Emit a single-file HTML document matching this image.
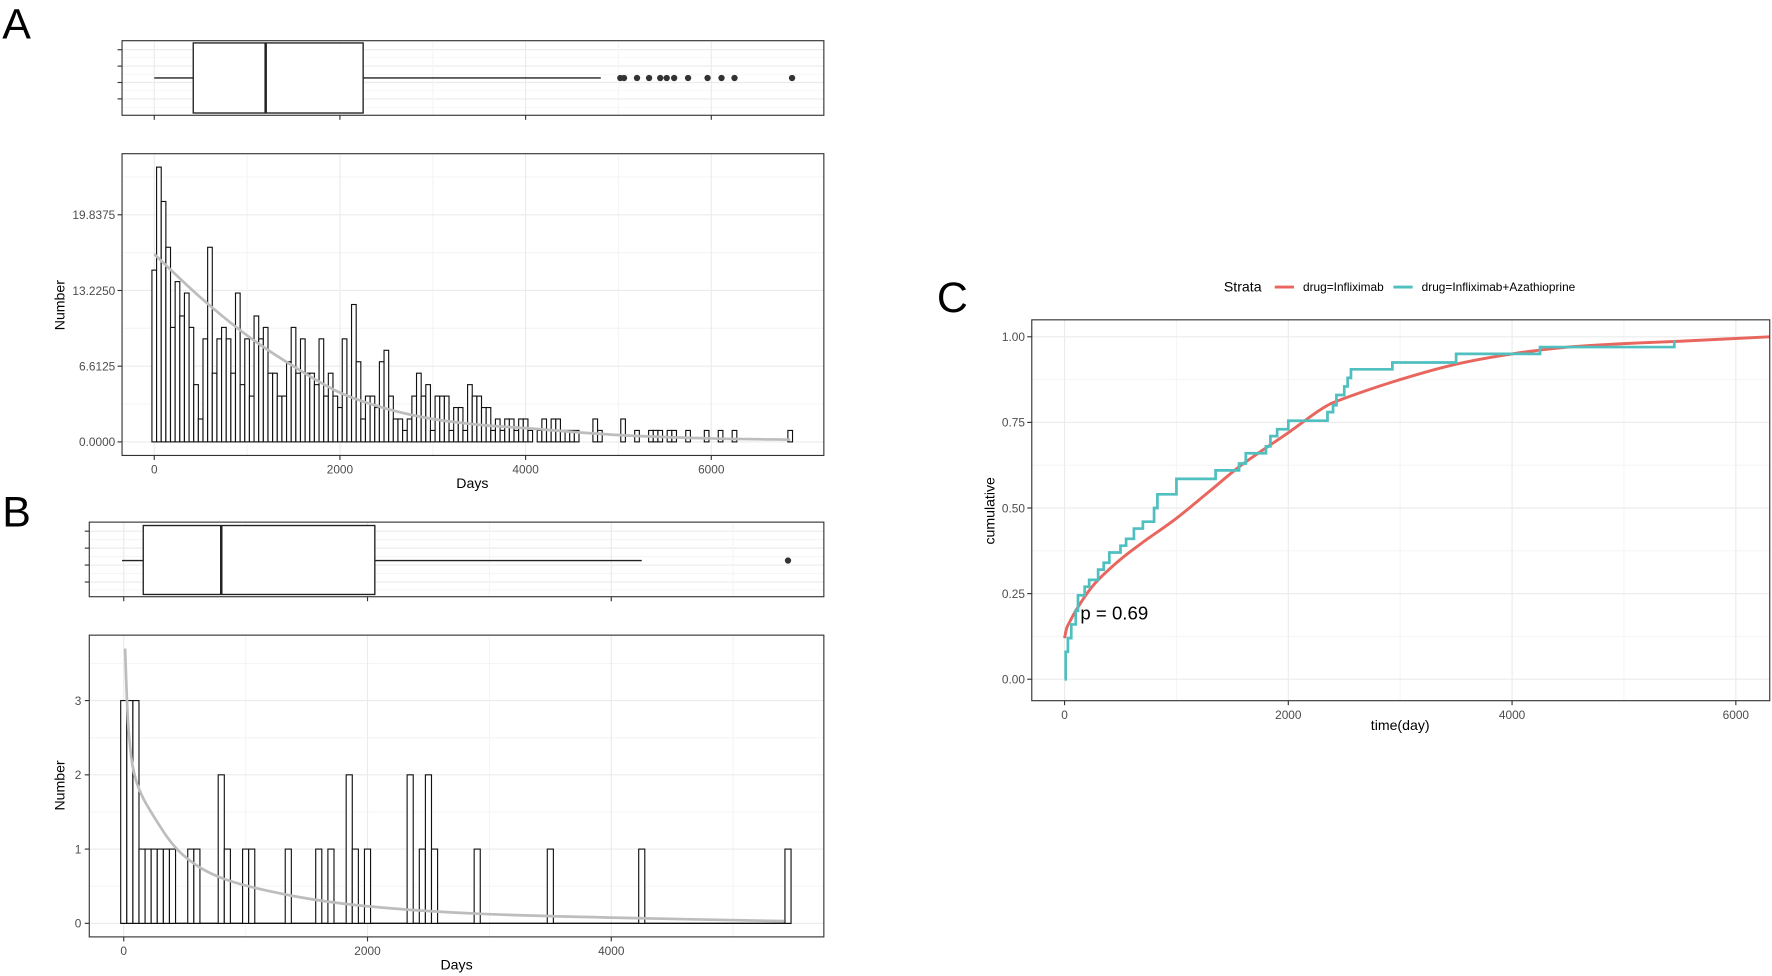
<!DOCTYPE html>
<html><head><meta charset="utf-8"><title>Survival duration figure</title>
<style>
html,body{margin:0;padding:0;background:#fff;}
svg{display:block;font-family:"Liberation Sans",sans-serif;}
</style></head>
<body>
<svg id="fig" width="1772" height="976" viewBox="0 0 1568 863.6" preserveAspectRatio="none" xmlns="http://www.w3.org/2000/svg">
<text x="2" y="34" font-size="38">A</text>
<text x="2" y="466" font-size="38">B</text>
<text x="829" y="276" font-size="38">C</text>
</svg>
<script>
// ---------- Panel A data ----------
const aBinWidth = 50;
const aCounts = [15,24,21,17,10,14,11,13,10,5,2,9,17,6,9,10,9,6,13,5,
 9,4,11,9,10,6,6,4,4,7,10,6,9,6,6,5,9,4,6,4,3,9,4,12,7,2,4,4,3,7,
 8,4,2,2,1,2,4,6,4,5,1,4,4,4,1,3,3,1,5,4,4,3,3,1,2,1,2,2,1,2,
 2,1,0,1,2,1,2,2,1,1,1,1,0,0,0,2,1,0,0,0,0,2,0,0,1,0,0,1,1,1,
 0,1,1,0,0,1,0,0,0,1,0,0,1,0,0,1,0,0,0,0,0,0,0,0,0,0,0,1];
const aCurveDays = [0,500,1000,1500,2000,2500,3000,3500,4000,5000,6000,6850];
const aCurveVals = [16.4,12.6,9.3,6.6,4.3,2.9,2.0,1.5,1.2,0.6,0.3,0.2];
const aYTicks = [0,6.6125,13.225,19.8375];
const aYTickLabels = ["0.0000","6.6125","13.2250","19.8375"];
const aXTicks = [0,2000,4000,6000];
const aBox = {q1:420, med:1200, q3:2250, lo:0, hi:4810};
const aOutliers = [5020,5060,5200,5330,5450,5520,5600,5750,5960,6110,6250,6870];

// ---------- Panel B data ----------
const bBinWidth = 50;
const bBins   = [0,1,2,3,4,5,6,7,8,11,12,16,17,20,21,27,32,34,37,38,40,47,49,50,51,58,70,85,109];
const bCounts = [3,3,3,1,1,1,1,1,1,1,1,2,1,1,1,1,1,1,2,1,1,2,1,2,1,1,1,1,1];
const bCurveDays = [11,40,100,250,480,820,1385,2000,2900,4000,5420];
const bCurveVals = [3.7,2.6,1.93,1.43,0.93,0.6,0.37,0.23,0.13,0.077,0.03];
const bYTicks = [0,1,2,3];
const bXTicks = [0,2000,4000];
const bBox = {q1:160, med:800, q3:2060, lo:0, hi:4250};
const bOutliers = [5450];

// ---------- Panel C data ----------
const cRedDays = [0,20,50,100,200,300,500,700,1000,1300,1600,2000,2300,2500,3000,3500,4000,4500,5000,5500,6300];
const cRedVals = [0.12,0.15,0.17,0.20,0.25,0.29,0.35,0.40,0.47,0.55,0.63,0.72,0.79,0.82,0.875,0.92,0.95,0.97,0.98,0.987,1.0];
const cTealDays = [0,10,30,60,100,120,180,220,300,350,400,500,550,620,700,800,830,1000,1350,1560,1620,1800,1840,1900,2000,2350,2400,2430,2500,2530,2560,2930,3500,4250,5450];
const cTealVals = [0,0.08,0.12,0.16,0.2,0.245,0.27,0.29,0.32,0.34,0.37,0.39,0.41,0.44,0.46,0.5,0.54,0.585,0.61,0.63,0.66,0.68,0.71,0.73,0.755,0.78,0.8,0.83,0.855,0.88,0.905,0.925,0.95,0.97,0.99];
const cXTicks = [0,2000,4000,6000];
const cYTicks = [0,0.25,0.5,0.75,1.0];
const cYTickLabels = ["0.00","0.25","0.50","0.75","1.00"];

const NS = "http://www.w3.org/2000/svg";
const svg = document.getElementById('fig');
function mk(tag, attrs, parent){
  const e = document.createElementNS(NS, tag);
  for (const k in attrs) e.setAttribute(k, attrs[k]);
  (parent||svg).appendChild(e);
  return e;
}
function txt(x,y,s,size,anchor,fill,parent){
  const t = mk('text',{x:x,y:y,'font-size':size,'text-anchor':anchor||'start',fill:fill||'#4d4d4d'},parent);
  t.textContent = s;
  return t;
}
function smoothPath(p){
  let d='M'+p[0][0]+','+p[0][1];
  for(let i=0;i<p.length-1;i++){
    const p0=p[Math.max(0,i-1)],p1=p[i],p2=p[i+1],p3=p[Math.min(p.length-1,i+2)];
    const c1x=p1[0]+(p2[0]-p0[0])/6,c1y=p1[1]+(p2[1]-p0[1])/6;
    const c2x=p2[0]-(p3[0]-p1[0])/6,c2y=p2[1]-(p3[1]-p1[1])/6;
    d+=' C'+c1x+','+c1y+' '+c2x+','+c2y+' '+p2[0]+','+p2[1];
  }
  return d;
}
const GRID = '#ebebeb', MINOR = '#f5f5f5';

// ---- Panel A scales ----
const aX = d => 136.5 + d*0.08215;
const aY = v => 391 - v*10.13;
{
  const L=108,R=729,T=36,B=102;
  const g = mk('g',{});
  
  
  [44,58.5,73,87.5].forEach(y=>{ const l=mk('line',{x1:L,x2:R,y1:y,y2:y,stroke:GRID,'stroke-width':1},g);   });
  [37,51,66,80,95].forEach(y=>{ mk('line',{x1:L,x2:R,y1:y,y2:y,stroke:MINOR,'stroke-width':0.6},g); });
  aXTicks.forEach(d=>{ const l=mk('line',{x1:aX(d),x2:aX(d),y1:T,y2:B,stroke:GRID},g);   mk('line',{x1:aX(d),x2:aX(d),y1:B,y2:B+4,stroke:'#333'},g); });
  [1000,3000,5000].forEach(d=>mk('line',{x1:aX(d),x2:aX(d),y1:T,y2:B,stroke:MINOR},g));
  [44,58.5,73,87.5].forEach(y=>mk('line',{x1:L-4,x2:L,y1:y,y2:y,stroke:'#333'},g));
  const wl=mk('line',{x1:aX(aBox.lo),x2:aX(aBox.q1),y1:69,y2:69,stroke:'#222','stroke-width':1.2},g);
   
  const wh=mk('line',{x1:aX(aBox.q3),x2:aX(aBox.hi),y1:69,y2:69,stroke:'#222','stroke-width':1.2},g);
   
  const bx=mk('rect',{x:aX(aBox.q1),y:38,width:aX(aBox.q3)-aX(aBox.q1),height:62,fill:'#fff',stroke:'#222','stroke-width':1.2},g);
   
  const md=mk('line',{x1:aX(aBox.med),x2:aX(aBox.med),y1:38,y2:100,stroke:'#222','stroke-width':2.2},g);
   
  aOutliers.forEach(d=>{ const c=mk('circle',{cx:aX(d),cy:69,r:2.8,fill:'#333'},g);   });
  const fr=mk('rect',{x:L,y:T,width:R-L,height:B-T,fill:'none',stroke:'#333','stroke-width':1},g);
   
}
{
  const L=108,R=729,T=136,B=403;
  const g = mk('g',{});
  
  
  for(let i=0;i<aYTicks.length-1;i++){ const v=(aYTicks[i]+aYTicks[i+1])/2; mk('line',{x1:L,x2:R,y1:aY(v),y2:aY(v),stroke:MINOR},g); }
  mk('line',{x1:L,x2:R,y1:aY(23.14),y2:aY(23.14),stroke:MINOR},g);
  [1000,3000,5000].forEach(d=>mk('line',{x1:aX(d),x2:aX(d),y1:T,y2:B,stroke:MINOR},g));
  aYTicks.forEach((v,i)=>{
    const l=mk('line',{x1:L,x2:R,y1:aY(v),y2:aY(v),stroke:GRID},g);
     
    mk('line',{x1:L-4,x2:L,y1:aY(v),y2:aY(v),stroke:'#333'},g);
    const t=txt(L-6,aY(v)+3.8,aYTickLabels[i],10.5,'end','#4d4d4d',g);
     
  });
  aXTicks.forEach(d=>{
    const l=mk('line',{x1:aX(d),x2:aX(d),y1:T,y2:B,stroke:GRID},g);
     
    mk('line',{x1:aX(d),x2:aX(d),y1:B,y2:B+4,stroke:'#333'},g);
    const t=txt(aX(d),B+16,String(d),10.5,'middle','#4d4d4d',g);
     
  });
  aCounts.forEach((c,i)=>{
    const x0=aX(i*aBinWidth-aBinWidth/2), x1=aX(i*aBinWidth+aBinWidth/2);
    const r=mk('rect',{x:x0,y:aY(c),width:x1-x0,height:aY(0)-aY(c),fill:'#fff',stroke:'#111','stroke-width':1},g);
     
  });
  const pts=aCurveDays.map((d,i)=>[aX(d),aY(aCurveVals[i])]);
  const cv=mk('path',{d:smoothPath(pts),fill:'none',stroke:'#bdbdbd','stroke-width':2.4},g);
   
  const fr=mk('rect',{x:L,y:T,width:R-L,height:B-T,fill:'none',stroke:'#333'},g);
   
  const yt=txt(0,0,'Number',12.5,'middle','#000',g);
  yt.setAttribute('transform','translate(57,270) rotate(-90)');
   
  const xt=txt(418,432,'Days',12.5,'middle','#000',g);
   
}

// ---- Panel B scales ----
const bX = d => 109.5 + d*0.10785;
const bY = v => 817 - v*65.7;
{
  const L=79,R=729,T=462,B=528;
  const g = mk('g',{});
  
  
  [470,485,500,515].forEach(y=>{ const l=mk('line',{x1:L,x2:R,y1:y,y2:y,stroke:GRID},g);   mk('line',{x1:L-4,x2:L,y1:y,y2:y,stroke:'#333'},g); });
  [477.5,492.5,507.5,522].forEach(y=>mk('line',{x1:L,x2:R,y1:y,y2:y,stroke:MINOR},g));
  bXTicks.forEach(d=>{ mk('line',{x1:bX(d),x2:bX(d),y1:T,y2:B,stroke:GRID},g); mk('line',{x1:bX(d),x2:bX(d),y1:B,y2:B+4,stroke:'#333'},g); });
  [1000,3000,5000].forEach(d=>mk('line',{x1:bX(d),x2:bX(d),y1:T,y2:B,stroke:MINOR},g));
  const wl=mk('line',{x1:bX(bBox.lo)-1.5,x2:bX(bBox.q1),y1:496,y2:496,stroke:'#222','stroke-width':1.2},g);
   
  const wh=mk('line',{x1:bX(bBox.q3),x2:bX(bBox.hi),y1:496,y2:496,stroke:'#222','stroke-width':1.2},g);
   
  const bx=mk('rect',{x:bX(bBox.q1),y:465,width:bX(bBox.q3)-bX(bBox.q1),height:61,fill:'#fff',stroke:'#222','stroke-width':1.2},g);
   
  const md=mk('line',{x1:bX(bBox.med),x2:bX(bBox.med),y1:465,y2:526,stroke:'#222','stroke-width':2.2},g);
   
  bOutliers.forEach(d=>{ const c=mk('circle',{cx:bX(d),cy:496,r:2.8,fill:'#333'},g);   });
  const fr=mk('rect',{x:L,y:T,width:R-L,height:B-T,fill:'none',stroke:'#333'},g);
   
}
{
  const L=79,R=729,T=562,B=829;
  const g = mk('g',{});
  
  
  [0.5,1.5,2.5,3.5].forEach(v=>mk('line',{x1:L,x2:R,y1:bY(v),y2:bY(v),stroke:MINOR},g));
  [1000,3000,5000].forEach(d=>mk('line',{x1:bX(d),x2:bX(d),y1:T,y2:B,stroke:MINOR},g));
  bYTicks.forEach(v=>{
    const l=mk('line',{x1:L,x2:R,y1:bY(v),y2:bY(v),stroke:GRID},g);
     
    mk('line',{x1:L-4,x2:L,y1:bY(v),y2:bY(v),stroke:'#333'},g);
    const t=txt(L-7,bY(v)+3.8,String(v),10.5,'end','#4d4d4d',g);
     
  });
  bXTicks.forEach(d=>{
    const l=mk('line',{x1:bX(d),x2:bX(d),y1:T,y2:B,stroke:GRID},g);
     
    mk('line',{x1:bX(d),x2:bX(d),y1:B,y2:B+4,stroke:'#333'},g);
    const t=txt(bX(d),B+16,String(d),10.5,'middle','#4d4d4d',g);
     
  });
  const bl=mk('line',{x1:bX(-25),x2:bX(109*bBinWidth+25),y1:bY(0),y2:bY(0),stroke:'#111','stroke-width':1.2},g);
   
  bBins.forEach((k,i)=>{
    const x0=bX(k*bBinWidth-bBinWidth/2), x1=bX(k*bBinWidth+bBinWidth/2);
    const r=mk('rect',{x:x0,y:bY(bCounts[i]),width:x1-x0,height:bY(0)-bY(bCounts[i]),fill:'#fff',stroke:'#111','stroke-width':1},g);
     
  });
  const pts=bCurveDays.map((d,i)=>[bX(d),bY(bCurveVals[i])]);
  const cv=mk('path',{d:smoothPath(pts),fill:'none',stroke:'#bdbdbd','stroke-width':2.4},g);
   
  const fr=mk('rect',{x:L,y:T,width:R-L,height:B-T,fill:'none',stroke:'#333'},g);
   
  const yt=txt(0,0,'Number',12.5,'middle','#000',g);
  yt.setAttribute('transform','translate(57,695) rotate(-90)');
   
  const xt=txt(404,858,'Days',12.5,'middle','#000',g);
   
}

// ---- Panel C ----
const cX = d => 942 + d*0.099;
const cY = v => 601 - v*303;
{
  const L=913,R=1566,T=283,B=620;
  const g = mk('g',{});
  
  
  [0.125,0.375,0.625,0.875].forEach(v=>mk('line',{x1:L,x2:R,y1:cY(v),y2:cY(v),stroke:MINOR},g));
  [1000,3000,5000].forEach(d=>mk('line',{x1:cX(d),x2:cX(d),y1:T,y2:B,stroke:MINOR},g));
  cYTicks.forEach((v,i)=>{
    const l=mk('line',{x1:L,x2:R,y1:cY(v),y2:cY(v),stroke:GRID},g);
     
    mk('line',{x1:L-4,x2:L,y1:cY(v),y2:cY(v),stroke:'#333'},g);
    const t=txt(L-6,cY(v)+3.8,cYTickLabels[i],10.5,'end','#4d4d4d',g);
     
  });
  cXTicks.forEach(d=>{
    const l=mk('line',{x1:cX(d),x2:cX(d),y1:T,y2:B,stroke:GRID},g);
     
    mk('line',{x1:cX(d),x2:cX(d),y1:B,y2:B+4,stroke:'#333'},g);
    const t=txt(cX(d),B+16,String(d),10.5,'middle','#4d4d4d',g);
     
  });
  const rp=cRedDays.map((d,i)=>[cX(d),cY(cRedVals[i])]);
  const red=mk('path',{d:smoothPath(rp),fill:'none',stroke:'#e8665e','stroke-width':2.6},g);
   
  let tp=[cX(cTealDays[0])+','+cY(cTealVals[0])];
  for(let i=1;i<cTealDays.length;i++){
    tp.push(cX(cTealDays[i])+','+cY(cTealVals[i-1]));
    tp.push(cX(cTealDays[i])+','+cY(cTealVals[i]));
  }
  const teal=mk('polyline',{points:tp.join(' '),fill:'none',stroke:'#4fbfc0','stroke-width':2.4,'stroke-linejoin':'miter'},g);
   
  const fr=mk('rect',{x:L,y:T,width:R-L,height:B-T,fill:'none',stroke:'#333'},g);
   
  const pv=txt(956,548,'p = 0.69',16.5,'start','#000',g);
   
  const yt=txt(0,0,'cumulative',12.5,'middle','#000',g);
  yt.setAttribute('transform','translate(880,452) rotate(-90)');
   
  const xt=txt(1239,646,'time(day)',12.5,'middle','#000',g);
   
  const lg=mk('g',{},g);
  
  
  const lt=txt(1083,258,'Strata',12.5,'start','#000',lg);
   
  const l1=mk('line',{x1:1128,x2:1145,y1:254,y2:254,stroke:'#e8665e','stroke-width':2.6},lg);
   
  const t1=txt(1153,257.5,'drug=Infliximab',10.5,'start','#000',lg);
   
  const l2=mk('line',{x1:1233,x2:1250,y1:254,y2:254,stroke:'#4fbfc0','stroke-width':2.6},lg);
   
  const t2=txt(1258,257.5,'drug=Infliximab+Azathioprine',10.5,'start','#000',lg);
   
}
</script>
</body></html>
